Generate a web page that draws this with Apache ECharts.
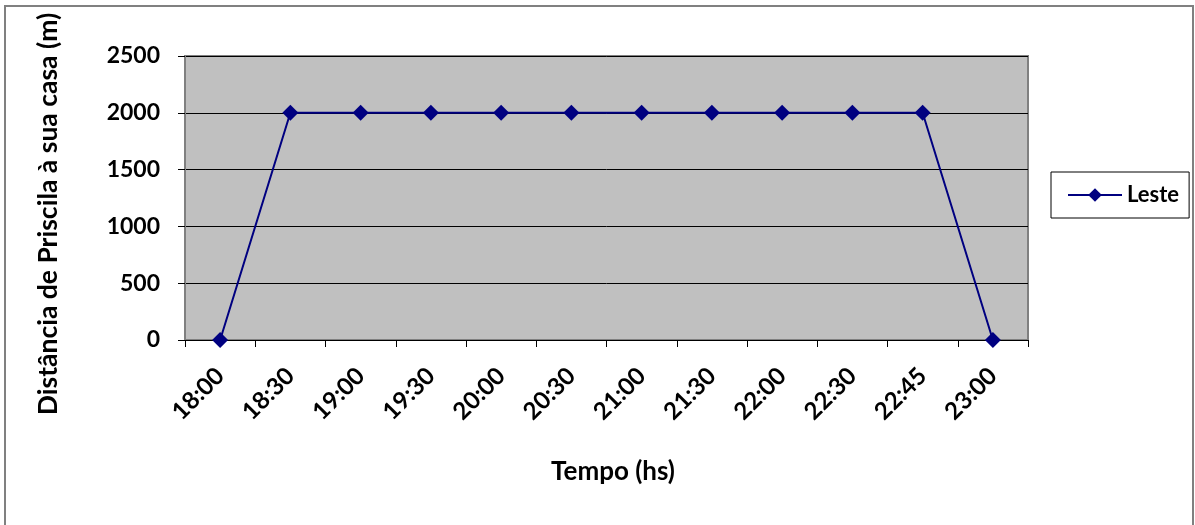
<!DOCTYPE html>
<html>
<head>
<meta charset="utf-8">
<script src="https://cdn.jsdelivr.net/npm/echarts@6/dist/echarts.min.js"></script>
<style>
  html, body { margin: 0; padding: 0; background: #fff; }
  #chart { width: 1195px; height: 525px; }
</style>
</head>
<body>
<div id="chart"></div>
<script>
// ---- dados ----
var horarios = ["18:00", "18:30", "19:00", "19:30", "20:00", "20:30",
                "21:00", "21:30", "22:00", "22:30", "22:45", "23:00"];
var distLeste = [0, 2000, 2000, 2000, 2000, 2000, 2000, 2000, 2000, 2000, 2000, 0];
var nomeSerie = "Leste";
var tituloY = "Distância de Priscila à sua casa (m)";
var tituloX = "Tempo (hs)";

var FONTE = "Lato, 'Open Sans', sans-serif";
var AZUL = "#000080";

var chart = echarts.init(document.getElementById("chart"));

chart.setOption({
  animation: false,
  backgroundColor: "#ffffff",
  textStyle: { fontFamily: FONTE },
  grid: {
    left: 185, top: 56, right: 167, bottom: 185,
    show: true,
    backgroundColor: "#C0C0C0",
    borderColor: "#808080",
    borderWidth: 2
  },
  legend: {
    data: [nomeSerie],
    left: 1051, top: 172,
    orient: "vertical",
    padding: [12, 10, 12, 16],
    itemWidth: 54, itemHeight: 17,
    itemGap: 4,
    borderColor: "#000", borderWidth: 1,
    textStyle: { fontFamily: FONTE, fontWeight: "bold", fontSize: 22, color: "#000" }
  },
  xAxis: {
    type: "category",
    data: horarios,
    boundaryGap: true,
    axisLine: { lineStyle: { color: "#000", width: 1 } },
    axisTick: { show: true, alignWithLabel: false, length: 7, lineStyle: { color: "#000" } },
    axisLabel: {
      interval: 0, rotate: 45, margin: 32,
      fontFamily: FONTE, fontWeight: "bold", fontSize: 24, color: "#000"
    },
    splitLine: { show: false }
  },
  yAxis: {
    type: "value",
    min: 0, max: 2500, interval: 500,
    axisLine: { show: true, lineStyle: { color: "#808080", width: 1 } },
    axisTick: { show: true, length: 7, lineStyle: { color: "#000" } },
    axisLabel: {
      margin: 25,
      formatter: function (v) { return String(v); },
      fontFamily: FONTE, fontWeight: "bold", fontSize: 23, color: "#000"
    },
    splitLine: { show: true, lineStyle: { color: "#000", width: 1 } }
  },
  graphic: [
    {
      type: "rect",
      shape: { x: 5, y: 6, width: 1188, height: 560 },
      style: { fill: "none", stroke: "#808080", lineWidth: 2 },
      silent: true, z: -1
    },
    {
      type: "text",
      x: 48, y: 214, rotation: Math.PI / 2,
      style: {
        text: tituloY, fontFamily: FONTE, fontWeight: "bold", fontSize: 26.5,
        fill: "#000", align: "center", verticalAlign: "middle"
      }
    },
    {
      type: "text",
      x: 613, y: 472,
      style: {
        text: tituloX, fontFamily: FONTE, fontWeight: "bold", fontSize: 26,
        fill: "#000", align: "center", verticalAlign: "middle"
      }
    }
  ],
  series: [{
    name: nomeSerie,
    type: "line",
    data: distLeste,
    symbol: "diamond",
    symbolSize: 16,
    showAllSymbol: true,
    lineStyle: { color: AZUL, width: 2 },
    itemStyle: { color: AZUL, borderWidth: 0 }
  }]
});
</script>
</body>
</html>
